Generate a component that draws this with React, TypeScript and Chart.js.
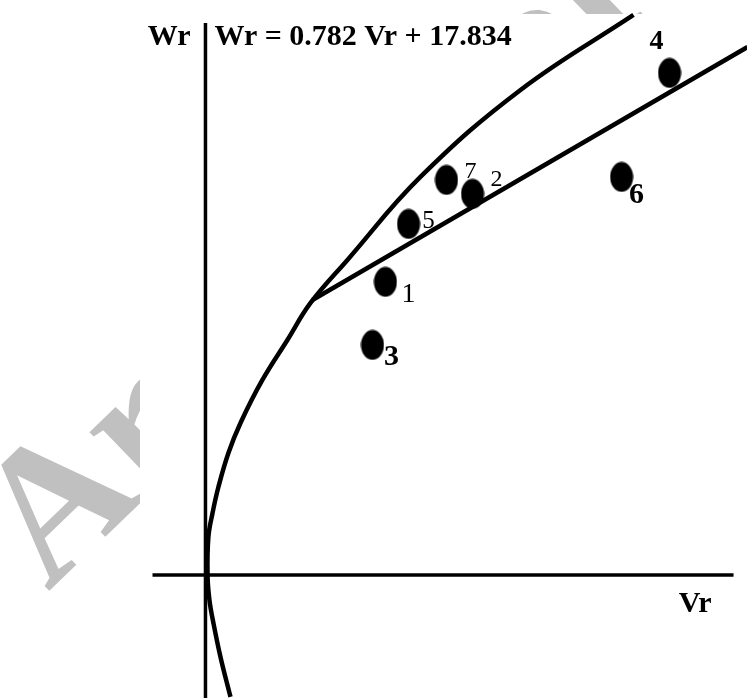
import React, { useEffect, useRef } from "react";
import { Chart, registerables } from "chart.js";

Chart.register(...registerables);

// ---- data ----
const pointLabels = ["1", "2", "3", "4", "5", "6", "7"];
const pointVr = [10.43, 15.48, 9.68, 26.9, 11.77, 24.12, 13.97];
const pointWr = [23.98, 31.18, 18.82, 41.08, 28.72, 32.57, 32.32];

// failure envelope (curve)
const envelopeVr = [1.45, 0.87, 0.46, 0.23, 0.12, 0.17, 0.41, 0.75, 1.33, 2.03, 3.3, 4.75, 6.09, 8.23, 12.46, 18.26, 24.81];
const envelopeWr = [-9.98, -6.71, -3.93, -2.05, 0, 3.11, 5.07, 7.2, 9.98, 12.44, 15.96, 19.23, 22.26, 25.78, 32.57, 39.69, 45.83];

// fitted line Wr = 0.782 Vr + 17.834
const fitVr = [6.2, 31.42];
const fitWr = [22.5, 43.2];

// axes lines
const axisXVr = [-3.07, 30.61];
const axisXWr = [0, 0];
const axisYVr = [0, 0];
const axisYWr = [-10.07, 45.17];

const scaleVr = [-11.91, 31.39];
const scaleWr = [-10.07, 47.05];

const equationText = "Wr = 0.782 Vr + 17.834";
const yTitle = "Wr";
const xTitle = "Vr";
const watermarkText = "Archive of SID";

// ---- styles ----
const labelOffsets = [
  [23, 11],
  [24, -16],
  [19, 10],
  [-13, -33],
  [20, -4],
  [15, 16],
  [24, -10],
];
const labelSizes = [28, 24, 30, 28, 25, 30, 24];
const labelWeights = ["normal", "normal", "bold", "bold", "normal", "bold", "normal"];
const SERIF = '"Liberation Serif", "Times New Roman", serif';

function toXY(xs: number[], ys: number[]) {
  return xs.map((v, i) => ({ x: v, y: ys[i] }));
}

function makeEllipse(): HTMLCanvasElement {
  const c = document.createElement("canvas");
  c.width = 24;
  c.height = 31;
  const g = c.getContext("2d")!;
  g.fillStyle = "#000";
  g.beginPath();
  g.ellipse(12, 15.5, 11.5, 15, 0, 0, Math.PI * 2);
  g.fill();
  return c;
}

const backgroundPlugin = {
  id: "bgWatermark",
  beforeDraw(chart: any) {
    const { ctx, width, height } = chart;
    ctx.save();
    ctx.fillStyle = "#fff";
    ctx.fillRect(0, 0, width, height);
    ctx.translate(48, 592);
    ctx.rotate((-44 * Math.PI) / 180);
    ctx.fillStyle = "#c0c0c0";
    ctx.font = `bold 188px ${SERIF}`;
    ctx.textAlign = "left";
    ctx.textBaseline = "alphabetic";
    ctx.fillText(watermarkText, 0, 0);
    ctx.restore();
    ctx.save();
    ctx.fillStyle = "#fff";
    ctx.fillRect(140, 14, width - 140, height - 14);
    ctx.restore();
  },
};

const textPlugin = {
  id: "texts",
  afterDatasetsDraw(chart: any) {
    const { ctx } = chart;
    const xs = chart.scales.x;
    const ys = chart.scales.y;
    ctx.save();
    ctx.fillStyle = "#000";
    pointLabels.forEach((t, i) => {
      const size = labelSizes[i];
      const px = xs.getPixelForValue(pointVr[i]) + labelOffsets[i][0];
      const py = ys.getPixelForValue(pointWr[i]) + labelOffsets[i][1];
      ctx.font = `${labelWeights[i]} ${size}px ${SERIF}`;
      ctx.textAlign = "center";
      ctx.textBaseline = "alphabetic";
      ctx.fillText(t, px, py + size * 0.338);
    });
    const ox = xs.getPixelForValue(0);
    ctx.font = `bold 30px ${SERIF}`;
    ctx.textBaseline = "alphabetic";
    ctx.textAlign = "right";
    ctx.fillText(yTitle, ox - 15, 45);
    ctx.textAlign = "left";
    ctx.fillText(equationText, ox + 9, 45);
    ctx.textAlign = "right";
    ctx.fillText(xTitle, xs.getPixelForValue(axisXVr[1]) - 22, ys.getPixelForValue(0) + 37);
    ctx.restore();
  },
};

export default function App() {
  const ref = useRef<HTMLCanvasElement | null>(null);
  useEffect(() => {
    if (!ref.current) return;
    const ellipse = makeEllipse();
    const lineDs = (data: any[], width: number, tension: number) => ({
      type: "line" as const,
      data,
      showLine: true,
      borderColor: "#000",
      borderWidth: width,
      pointRadius: 0,
      pointHoverRadius: 0,
      fill: false,
      tension,
      clip: false as any,
    });
    const chart = new Chart(ref.current, {
      type: "scatter",
      data: {
        datasets: [
          lineDs(toXY(axisXVr, axisXWr), 3.5, 0) as any,
          lineDs(toXY(axisYVr, axisYWr), 3.5, 0) as any,
          lineDs(toXY(envelopeVr, envelopeWr), 4.5, 0.4) as any,
          lineDs(toXY(fitVr, fitWr), 4.5, 0) as any,
          {
            data: toXY(pointVr, pointWr),
            pointStyle: ellipse,
            pointRadius: 12,
            backgroundColor: "#000",
            borderColor: "#000",
            clip: false as any,
          },
        ],
      },
      options: {
        animation: false,
        responsive: false,
        layout: { padding: 0, autoPadding: false },
        plugins: { legend: { display: false }, tooltip: { enabled: false } },
        events: [],
        scales: {
          x: { type: "linear", display: false, min: scaleVr[0], max: scaleVr[1] },
          y: { type: "linear", display: false, min: scaleWr[0], max: scaleWr[1] },
        },
      },
      plugins: [backgroundPlugin, textPlugin],
    });
    return () => chart.destroy();
  }, []);
  return (
    <div style={{ position: "absolute", left: 0, top: 0, width: 747, height: 698, background: "#fff" }}>
      <canvas ref={ref} width={747} height={698} style={{ display: "block" }} />
    </div>
  );
}
